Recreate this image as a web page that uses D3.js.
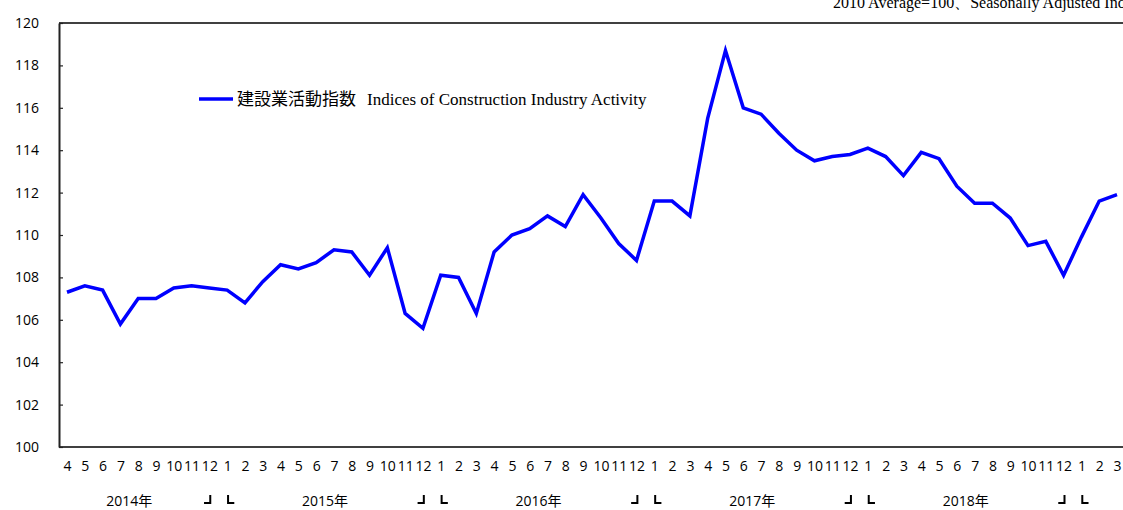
<!DOCTYPE html>
<html>
<head>
<meta charset="utf-8">
<script src="https://cdn.jsdelivr.net/npm/d3@7"></script>
<style>
  body { margin: 0; background: #fff; }
  svg { display: block; }
</style>
</head>
<body>
<script>
// monthly index, 2014/4 .. 2019/3
const months = [4,5,6,7,8,9,10,11,12,1,2,3, 4,5,6,7,8,9,10,11,12,1,2,3, 4,5,6,7,8,9,10,11,12,1,2,3,
                4,5,6,7,8,9,10,11,12,1,2,3, 4,5,6,7,8,9,10,11,12,1,2,3];
const activity = [107.3,107.6,107.4,105.8,107.0,107.0,107.5,107.6,107.5,107.4,106.8,107.8,
                  108.6,108.4,108.7,109.3,109.2,108.1,109.4,106.3,105.6,108.1,108.0,106.3,
                  109.2,110.0,110.3,110.9,110.4,111.9,110.8,109.6,108.8,111.6,111.6,110.9,
                  115.5,118.7,116.0,115.7,114.8,114.0,113.5,113.7,113.8,114.1,113.7,112.8,
                  113.9,113.6,112.3,111.5,111.5,110.8,109.5,109.7,108.1,109.9,111.6,111.9];
const yearLabels = ["2014年","2015年","2016年","2017年","2018年"];
const yearCenters = [3.5, 14.5, 26.5, 38.5, 50.5];   // in month-index units
const yearBreaks = [8.5, 20.5, 32.5, 44.5, 56.5];    // between Dec and Jan
const yTicks = [100,102,104,106,108,110,112,114,116,118,120];

const W = 1123, H = 510;
const plot = {left: 59, top: 23, bottom: 447, right: 1123};

let svg = d3.select("body").append("svg")
    .attr("width", W).attr("height", H);

let x = d3.scaleLinear().domain([0, activity.length - 1]).range([67, 1117]);
let y = d3.scaleLinear().domain([100, 120]).range([plot.bottom, plot.top]);

// frame: top and bottom
svg.append("line")
    .attr("x1", plot.left).attr("x2", plot.right)
    .attr("y1", y(120)).attr("y2", y(120))
    .attr("stroke", "#000").attr("stroke-width", 1.5);
svg.append("line")
    .attr("x1", plot.left).attr("x2", plot.right)
    .attr("y1", y(100)).attr("y2", y(100))
    .attr("stroke", "#000").attr("stroke-width", 1.5);

// y axis, ticks pointing inward
let yAxis = d3.axisLeft(y)
    .tickValues(yTicks)
    .tickSizeInner(-4)
    .tickSizeOuter(0)
    .tickPadding(20);

let gy = svg.append("g")
    .attr("transform", `translate(${plot.left},0)`)
    .call(yAxis);
gy.select(".domain").attr("stroke", "#222").attr("stroke-width", 2);
gy.selectAll(".tick line").attr("stroke", "#222").attr("stroke-width", 1.2);
gy.selectAll("text")
    .attr("font-family", "'Open Sans', 'Noto Sans', sans-serif")
    .attr("font-size", 14)
    .attr("fill", "#000");

// x axis (month numbers)
let xAxis = d3.axisBottom(x)
    .tickValues(d3.range(months.length))
    .tickFormat(i => months[i])
    .tickSize(0)
    .tickPadding(14);

let gx = svg.append("g")
    .attr("transform", `translate(0,${plot.bottom})`)
    .call(xAxis);
gx.select(".domain").remove();
gx.selectAll("text")
    .attr("font-family", "'Open Sans', 'Noto Sans', sans-serif")
    .attr("font-size", 14)
    .attr("fill", "#000");

// year labels
svg.selectAll(".year")
    .data(yearLabels)
    .enter()
    .append("text")
        .attr("class", "year")
        .attr("x", (d, i) => x(yearCenters[i]))
        .attr("y", 506)
        .attr("text-anchor", "middle")
        .attr("font-family", "'Open Sans', 'Noto Sans CJK JP', sans-serif")
        .attr("font-size", 14)
        .text(d => d);

// year break brackets  ┘ └
let step = x(1) - x(0);
let brk = svg.selectAll(".brk")
    .data(yearBreaks)
    .enter()
    .append("g")
        .attr("class", "brk");
brk.append("path")
    .attr("d", d => {
        let cx = x(d);
        return `M${cx - step * 0.8},503 H${cx - step * 0.45} V495`;
    })
    .attr("fill", "none").attr("stroke", "#000").attr("stroke-width", 2);
brk.append("path")
    .attr("d", d => {
        let cx = x(d);
        return `M${cx + step * 0.55},495 V503 H${cx + step * 0.9}`;
    })
    .attr("fill", "none").attr("stroke", "#000").attr("stroke-width", 2);

// the series
let line = d3.line()
    .x((d, i) => x(i))
    .y(d => y(d));

svg.append("path")
    .datum(activity)
    .attr("fill", "none")
    .attr("stroke", "#0000ff")
    .attr("stroke-width", 3.5)
    .attr("stroke-linejoin", "miter")
    .attr("d", line);

// legend
let lg = svg.append("g").attr("transform", "translate(199,99)");
lg.append("line")
    .attr("x1", 0).attr("x2", 34)
    .attr("stroke", "#0000ff").attr("stroke-width", 3.5);
let lt = lg.append("text")
    .attr("x", 38).attr("y", 6)
    .attr("font-size", 17);
lt.append("tspan")
    .attr("font-family", "'Noto Sans CJK JP', sans-serif")
    .text("建設業活動指数");
lt.append("tspan")
    .attr("font-family", "'Liberation Serif', serif")
    .attr("x", 168)
    .text("Indices of Construction Industry Activity");

// unit note, top right (cut off at the page edge, as in the source)
svg.append("text")
    .attr("x", 833).attr("y", 8)
    .attr("font-family", "'Liberation Serif', serif")
    .attr("font-size", 16)
    .text("2010 Average=100、Seasonally Adjusted Index");
</script>
</body>
</html>
